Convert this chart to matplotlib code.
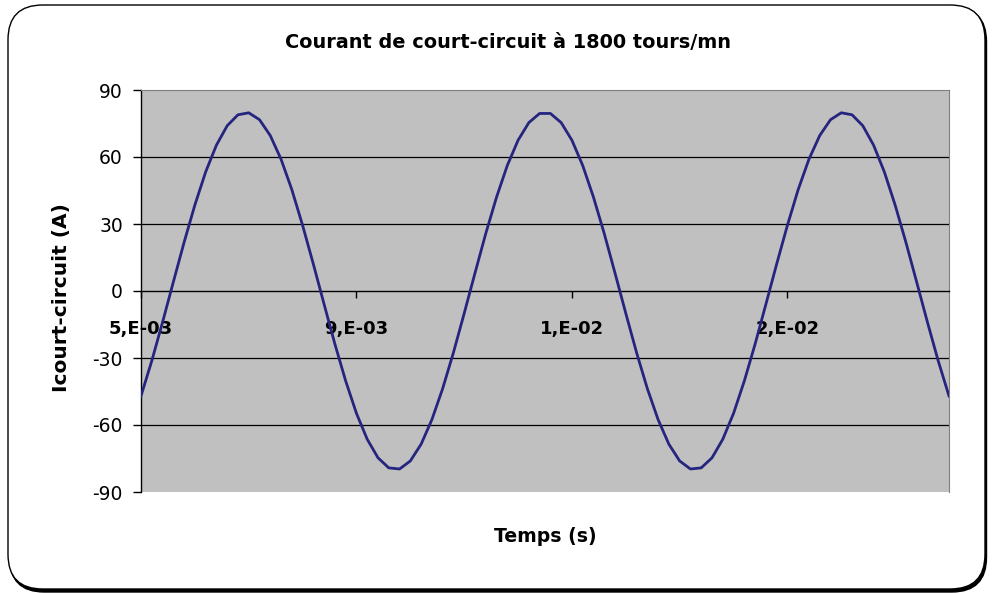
import matplotlib
matplotlib.use("Agg")
import matplotlib.pyplot as plt
from matplotlib.patches import FancyBboxPatch
from matplotlib.ticker import FuncFormatter

plt.rcParams['font.family'] = ['DejaVu Sans']

# Time (s)
temps = [0.0050, 0.0052, 0.0054, 0.0056, 0.0058, 0.0060, 0.0062, 0.0064, 0.0066, 0.0068,
         0.0070, 0.0072, 0.0074, 0.0076, 0.0078, 0.0080, 0.0082, 0.0084, 0.0086, 0.0088,
         0.0090, 0.0092, 0.0094, 0.0096, 0.0098, 0.0100, 0.0102, 0.0104, 0.0106, 0.0108,
         0.0110, 0.0112, 0.0114, 0.0116, 0.0118, 0.0120, 0.0122, 0.0124, 0.0126, 0.0128,
         0.0130, 0.0132, 0.0134, 0.0136, 0.0138, 0.0140, 0.0142, 0.0144, 0.0146, 0.0148,
         0.0150, 0.0152, 0.0154, 0.0156, 0.0158, 0.0160, 0.0162, 0.0164, 0.0166, 0.0168,
         0.0170, 0.0172, 0.0174, 0.0176, 0.0178, 0.0180, 0.0182, 0.0184, 0.0186, 0.0188,
         0.0190, 0.0192, 0.0194, 0.0196, 0.0198, 0.0200]

# Short-circuit current (A)
icourt = [-47.0, -31.3, -14.0, 4.0, 21.8, 38.5, 53.3, 65.3, 74.0, 78.9,
          79.8, 76.7, 69.6, 59.0, 45.4, 29.4, 12.0, -6.0, -23.8, -40.3,
          -54.8, -66.4, -74.7, -79.2, -79.7, -76.1, -68.6, -57.6, -43.7, -27.6,
          -10.0, 8.0, 25.7, 42.0, 56.2, 67.5, 75.4, 79.5, 79.5, 75.4,
          67.5, 56.2, 42.0, 25.7, 8.0, -10.0, -27.6, -43.7, -57.6, -68.6,
          -76.1, -79.7, -79.2, -74.7, -66.4, -54.8, -40.3, -23.8, -6.0, 12.0,
          29.4, 45.4, 59.0, 69.6, 76.7, 79.8, 78.9, 74.0, 65.3, 53.3,
          38.5, 21.8, 4.0, -14.0, -31.3, -47.0]

x_ticks = [0.005, 0.009, 0.013, 0.017]
y_ticks = [-90, -60, -30, 0, 30, 60, 90]

W, H = 992, 593
fig = plt.figure(figsize=(W / 100, H / 100), dpi=100)
fig.patch.set_facecolor('white')

# Rounded outer border with shadow
shadow = FancyBboxPatch((9.5 / W, 1 - 592 / H), (977 / W), (585 / H),
                        boxstyle="round,pad=0,rounding_size=0.035",
                        transform=fig.transFigure, facecolor='black',
                        edgecolor='black', lw=1, zorder=0, mutation_aspect=W / H)
fig.patches.append(shadow)
frame = FancyBboxPatch((8 / W, 1 - 589 / H), (977 / W), (584 / H),
                       boxstyle="round,pad=0,rounding_size=0.035",
                       transform=fig.transFigure, facecolor='white',
                       edgecolor='black', lw=1, zorder=0.5, mutation_aspect=W / H)
fig.patches.append(frame)

ax = fig.add_axes([141 / W, 1 - 492 / H, 808 / W, 402 / H])
ax.set_facecolor('#C0C0C0')
ax.set_zorder(2)

for yv in [-60, -30, 30, 60]:
    ax.axhline(yv, color='#000000', lw=0.9, zorder=1)

ax.plot(temps, icourt, color='#25257F', lw=2.0, zorder=3, solid_joinstyle='round')

ax.set_xlim(0.005, 0.020)
ax.set_ylim(-90, 90)
ax.set_yticks(y_ticks)
ax.set_yticklabels([str(v) for v in y_ticks])
ax.set_xticks(x_ticks)
ax.xaxis.set_major_formatter(FuncFormatter(lambda v, p: f"{v:.0E}".replace('E', ',E')))

ax.spines['bottom'].set_position(('data', 0))
ax.spines['bottom'].set_color('black')
ax.spines['bottom'].set_linewidth(1.0)
ax.spines['left'].set_color('black')
ax.spines['left'].set_linewidth(1.0)
ax.spines['top'].set_color('#808080')
ax.spines['right'].set_color('#808080')

ax.tick_params(axis='y', direction='out', length=6, width=1, pad=7, labelsize=13.5)
ax.tick_params(axis='x', direction='out', length=5, width=1, pad=16, labelsize=13)
for lab in ax.get_xticklabels():
    lab.set_fontweight('bold')

fig.text(508 / W, 1 - 42 / H, "Courant de court-circuit à 1800 tours/mn",
         ha='center', va='center', fontsize=13.9, fontweight='bold')
fig.text(545 / W, 1 - 537 / H, "Temps (s)", ha='center', va='center',
         fontsize=13.6, fontweight='bold')
fig.text(62 / W, 1 - 298 / H, "Icourt-circuit (A)", ha='center', va='center',
         rotation=90, fontsize=14.5, fontweight='bold')

fig.savefig("out.png", dpi=100)
